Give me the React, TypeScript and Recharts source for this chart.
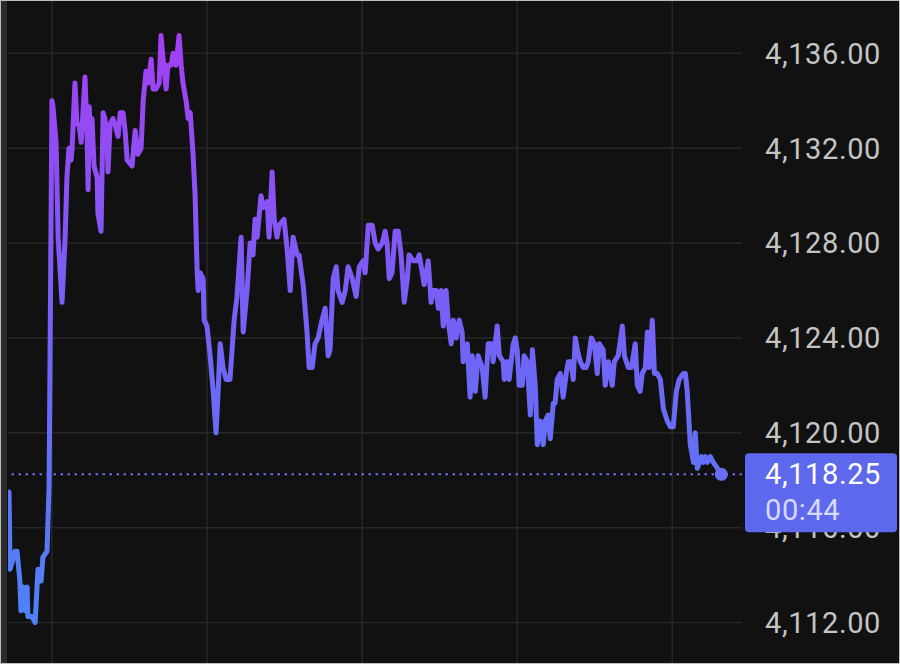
import React from 'react';
import { LineChart, Line, XAxis, YAxis, CartesianGrid, ReferenceLine, ReferenceDot } from 'recharts';

// minutes since start of the visible window
const times = [
  0.4, 0.8, 1.5, 2.7, 3.5, 4.6, 5.0, 5.8, 6.6, 7.4, 7.7, 9.3, 10.5, 11.6, 12.8, 13.5, 15.1, 15.9,
  17.0, 17.4, 18.6, 19.4, 20.9, 22.1, 22.8, 23.6, 24.4, 24.8, 25.9, 26.7, 27.5, 28.3, 29.0, 29.8,
  30.6, 31.0, 31.4, 32.1, 32.5, 33.3, 34.5, 34.8, 36.0, 36.8, 37.5, 38.3, 38.7, 39.5, 40.6, 41.4,
  42.6, 43.4, 44.5, 45.3, 46.1, 48.0, 49.2, 50.3, 51.5, 52.3, 53.4, 54.2, 55.4, 56.1, 57.3, 58.5,
  59.2, 60.0, 61.2, 61.9, 63.1, 63.9, 65.0, 66.2, 67.0, 67.7, 68.9, 69.7, 70.5, 71.6, 72.4, 73.2,
  73.6, 74.3, 75.5, 75.9, 77.0, 78.2, 79.4, 80.5, 81.3, 82.1, 83.2, 84.4, 85.9, 86.7, 87.5, 88.6,
  90.2, 91.0, 92.5, 93.7, 94.8, 95.6, 96.4, 97.9, 98.7, 100.3, 101.0, 102.2, 103.0, 104.1, 104.9,
  106.8, 108.0, 109.2, 110.3, 111.9, 112.6, 114.2, 115.7, 116.5, 117.7, 118.8, 120.0, 121.5, 122.7,
  123.9, 124.6, 125.8, 127.0, 127.7, 129.3, 130.5, 131.6, 133.2, 134.7, 135.9, 137.4, 138.2, 139.4,
  140.9, 142.1, 143.2, 144.8, 145.9, 146.7, 147.5, 148.6, 149.8, 151.0, 152.1, 153.3, 154.5, 155.2,
  156.8, 158.3, 159.1, 160.3, 161.0, 161.8, 162.6, 163.7, 164.5, 165.7, 166.5, 167.6, 168.4, 169.5,
  170.3, 171.5, 172.3, 173.4, 174.6, 175.7, 176.1, 177.7, 178.8, 179.6, 180.8, 181.9, 183.5, 184.6,
  185.8, 187.3, 187.7, 189.3, 190.1, 191.6, 192.0, 193.2, 193.9, 195.5, 196.3, 197.0, 197.8, 199.0,
  199.7, 200.9, 202.1, 202.9, 204.0, 204.8, 205.9, 207.1, 207.9, 209.0, 209.8, 211.0, 211.7, 212.5,
  213.7, 214.8, 216.0, 216.8, 217.9, 218.7, 219.5, 220.3, 221.4, 222.6, 223.7, 224.5, 225.7, 226.9,
  228.0, 228.8, 230.3, 231.1, 232.3, 233.8, 234.6, 236.1, 237.7, 238.5, 240.0, 241.2, 242.7, 243.5,
  244.6, 245.4, 246.6, 247.4, 248.1, 249.3, 250.1, 251.2, 252.4, 253.6, 255.1, 256.3, 257.4, 258.6,
  259.7, 261.3, 262.1, 262.8, 264.0, 265.2, 265.9, 266.7, 268.3, 269.0, 269.8, 270.6, 271.7, 272.9,
  274.5, 276.0,
];

const prices = [
  4117.5, 4114.25, 4114.5, 4115.0, 4115.0, 4113.75, 4112.5, 4113.5, 4112.5, 4113.5, 4112.25, 4112.25, 4112.0, 4114.25, 4113.75, 4114.75, 4115.0, 4117.75,
  4134.0, 4133.75, 4132.25, 4128.25, 4125.5, 4128.25, 4130.75, 4132.0, 4131.5, 4132.0, 4134.75, 4133.0, 4133.0, 4132.25, 4133.5, 4135.0,
  4132.5, 4130.25, 4133.75, 4132.25, 4133.25, 4131.25, 4130.75, 4129.25, 4128.5, 4133.5, 4133.25, 4132.5, 4131.0, 4133.0, 4133.25, 4133.0,
  4132.5, 4133.5, 4133.5, 4132.75, 4131.5, 4131.25, 4132.75, 4131.75, 4132.0, 4134.0, 4135.25, 4134.75, 4135.75, 4134.5, 4134.5, 4134.75,
  4136.75, 4135.75, 4134.5, 4135.5, 4135.5, 4136.0, 4135.5, 4136.75, 4135.5, 4134.75, 4134.0, 4133.25, 4133.5, 4131.75, 4130.0, 4126.75,
  4126.0, 4126.75, 4126.5, 4124.75, 4124.5, 4123.25, 4121.75, 4120.0, 4121.75, 4123.75, 4122.75, 4122.25, 4122.25, 4123.5, 4124.75, 4125.75,
  4128.25, 4124.25, 4126.0, 4128.0, 4127.5, 4129.0, 4128.25, 4130.0, 4129.5, 4129.75, 4128.25, 4131.0, 4129.0, 4128.25, 4128.75,
  4129.0, 4127.75, 4126.0, 4128.25, 4127.5, 4127.5, 4126.25, 4124.25, 4122.75, 4122.75, 4123.75, 4124.0, 4124.75, 4125.25,
  4123.25, 4123.5, 4126.5, 4127.0, 4126.0, 4125.5, 4126.0, 4127.0, 4126.5, 4125.75, 4127.0, 4127.25, 4126.75, 4128.75,
  4128.75, 4128.0, 4127.75, 4128.0, 4128.5, 4128.0, 4126.5, 4126.75, 4128.5, 4128.5, 4127.5, 4125.5, 4126.5, 4127.5,
  4127.25, 4127.25, 4127.5, 4126.75, 4126.25, 4126.75, 4127.25, 4125.5, 4126.0, 4126.0, 4125.25, 4126.0, 4124.5, 4126.0,
  4124.75, 4123.75, 4124.75, 4124.0, 4124.75, 4124.25, 4123.0, 4123.75, 4121.5, 4123.25, 4121.75, 4123.25, 4122.75, 4121.5,
  4123.75, 4123.75, 4123.0, 4124.5, 4123.25, 4123.0, 4122.25, 4123.0, 4122.25, 4123.75, 4124.0, 4123.5, 4122.0, 4122.0,
  4123.25, 4123.0, 4120.75, 4123.5, 4122.0, 4119.5, 4120.5, 4119.5, 4120.5, 4120.75, 4119.75, 4121.25, 4121.25, 4122.25,
  4122.5, 4121.5, 4122.5, 4123.0, 4123.0, 4122.25, 4124.0, 4123.5, 4123.0, 4122.75, 4122.75, 4123.0, 4124.0, 4123.75,
  4122.5, 4123.75, 4123.5, 4122.0, 4123.0, 4122.0, 4123.0, 4123.25, 4124.5, 4123.25, 4122.75, 4122.75, 4123.75, 4122.0,
  4121.75, 4122.5, 4122.75, 4124.25, 4122.75, 4124.75, 4122.5, 4122.5, 4122.25, 4121.0, 4120.5, 4120.25, 4120.25, 4121.75,
  4122.25, 4122.5, 4122.5, 4121.75, 4119.5, 4118.75, 4120.0, 4118.5, 4119.0, 4118.75, 4119.0, 4118.75, 4119.0, 4118.75,
  4118.5, 4118.25,
];

const yTicks = [4112, 4116, 4120, 4124, 4128, 4132, 4136];
const yDomain = [4110.25, 4138.25];
const xDomain = [0, 284];
const xGridTimes = [17, 77, 137, 197, 257];
const lastTime = 276.0;
const lastPrice = 4118.25;
const countdown = '00:44';

const data = times.map((t, i) => ({ t, price: prices[i] }));

const FONT = 'Roboto, "Noto Sans", sans-serif';

const fmt = (v: number) =>
  v.toLocaleString('en-US', { minimumFractionDigits: 2, maximumFractionDigits: 2 });

const AxisTick = (props: any) => {
  const { x, y, payload } = props;
  return (
    <text x={x} y={y} dy="0.355em" textAnchor="start" fontSize={29} letterSpacing={0.6}
      fontFamily={FONT} fill="#c4c4c4">
      {fmt(payload.value)}
    </text>
  );
};

const PriceTag = (props: any) => {
  const vb = props.viewBox || {};
  const x = vb.x + vb.width + 3;
  const y = vb.y;
  return (
    <g>
      <rect x={x} y={y - 21} width={152} height={79} rx={4} fill="#5d68ec" />
      <text x={x + 20} y={y + 10} fontSize={29} letterSpacing={0.6} fontFamily={FONT} fill="#ffffff">
        {fmt(lastPrice)}
      </text>
      <text x={x + 20} y={y + 46} fontSize={29} letterSpacing={0.6} fontFamily={FONT} fill="#d6daff">
        {countdown}
      </text>
    </g>
  );
};

export default function App() {
  return (
    <div style={{ position: 'fixed', left: 0, top: 0, width: 900, height: 664, background: '#111111', overflow: 'hidden' }}>
      <div style={{ position: 'absolute', left: 0, top: 0, width: 7, height: 664, background: '#2c2c2c' }} />
      <div style={{ position: 'absolute', left: 0, top: 0 }}>
        <LineChart width={900} height={664} data={data} margin={{ top: 0, right: 0, bottom: 0, left: 8 }}>
          <defs>
            <linearGradient id="lineGrad" x1="0" y1="0" x2="0" y2="1">
              <stop offset="0%" stopColor="#a33ff3" />
              <stop offset="50%" stopColor="#7462f6" />
              <stop offset="100%" stopColor="#4d82f7" />
            </linearGradient>
          </defs>
          <CartesianGrid stroke="#272727" strokeWidth={1.5} horizontalValues={yTicks} verticalValues={xGridTimes} />
          <XAxis type="number" dataKey="t" domain={xDomain} allowDataOverflow hide />
          <YAxis orientation="right" width={158} domain={yDomain} allowDataOverflow ticks={yTicks}
            axisLine={false} tickLine={false} tickSize={0} tickMargin={23} tick={<AxisTick />} zIndex={100} />
          <Line type="linear" dataKey="price" stroke="url(#lineGrad)" strokeWidth={5} dot={false}
            strokeLinejoin="round" strokeLinecap="round" isAnimationActive={false} />
          <ReferenceLine y={lastPrice} stroke="#6a70f0" strokeWidth={2} strokeDasharray="2.5 4.5"
            label={<PriceTag />} zIndex={3000} />
          <ReferenceDot x={lastTime} y={lastPrice} r={6.5} fill="#6a6ef0" stroke="none" zIndex={3000} />
        </LineChart>
      </div>
      <div style={{ position: 'absolute', left: 0, top: 0, width: 900, height: 664, boxSizing: 'border-box', border: '1px solid #bdbdbd', pointerEvents: 'none' }} />
    </div>
  );
}
